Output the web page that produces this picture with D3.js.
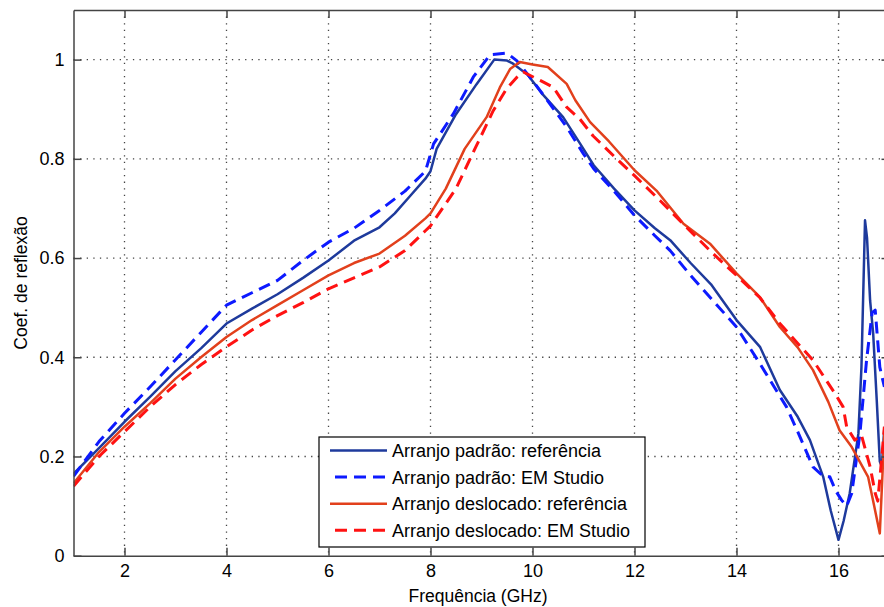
<!DOCTYPE html>
<html>
<head>
<meta charset="utf-8">
<script src="https://cdn.jsdelivr.net/npm/d3@7"></script>
<style>
  body { margin: 0; background: #fff; }
  svg text { font-family: "Liberation Sans", Arial, sans-serif; fill: #000; }
</style>
</head>
<body>
<svg id="vis" width="884" height="607"></svg>
<script>
// data
var xTicks = [2, 4, 6, 8, 10, 12, 14, 16];
var yTicks = [0, 0.2, 0.4, 0.6, 0.8, 1];

var padraoRefF = [1.0,1.5,2.0,2.5,3.0,3.5,4.0,4.5,5.0,5.5,6.0,6.5,7.0,7.3,7.6,7.9,8.0,8.12,8.5,8.9,9.25,9.5,9.6,9.9,10.2,10.6,10.93,11.2,11.6,12.0,12.4,12.7,13.1,13.5,14.0,14.46,14.85,15.2,15.44,15.7,15.85,16.0,16.1,16.22,16.39,16.45,16.52,16.56,16.62,16.68,16.75,16.81,16.85,16.9];
var padraoRefV = [0.165,0.217,0.27,0.32,0.372,0.418,0.468,0.498,0.527,0.56,0.595,0.635,0.662,0.69,0.725,0.76,0.775,0.82,0.89,0.95,1.0,0.998,0.993,0.97,0.93,0.884,0.831,0.787,0.74,0.696,0.66,0.636,0.59,0.547,0.475,0.421,0.334,0.28,0.233,0.159,0.09,0.032,0.07,0.126,0.246,0.38,0.676,0.64,0.514,0.448,0.313,0.19,0.18,0.26];

var padraoEmF = [1.0,1.5,2.0,2.5,3.0,3.5,4.0,4.5,5.0,5.5,6.0,6.5,7.0,7.5,7.9,8.06,8.45,8.84,9.17,9.5,9.69,10.0,10.34,10.67,11.0,11.2,11.6,12.0,12.4,12.7,13.1,13.48,14.0,14.46,14.98,15.2,15.5,15.7,15.83,15.95,16.06,16.16,16.26,16.42,16.55,16.66,16.72,16.81,16.9];
var padraoEmV = [0.16,0.23,0.287,0.34,0.395,0.45,0.505,0.53,0.555,0.595,0.632,0.66,0.696,0.735,0.775,0.83,0.891,0.965,1.01,1.013,0.998,0.958,0.911,0.864,0.81,0.78,0.735,0.686,0.645,0.615,0.565,0.521,0.461,0.387,0.30,0.25,0.179,0.16,0.159,0.13,0.112,0.1,0.126,0.246,0.394,0.49,0.495,0.38,0.34];

var deslRefF = [1.0,1.5,2.0,2.5,3.0,3.5,4.0,4.5,5.0,5.5,6.0,6.5,7.0,7.5,7.9,8.0,8.3,8.67,9.1,9.36,9.56,9.75,10.0,10.3,10.67,10.84,11.13,11.5,12.0,12.43,12.96,13.48,14.0,14.46,14.85,15.2,15.5,15.8,16.02,16.26,16.58,16.7,16.81,16.9];
var deslRefV = [0.146,0.209,0.26,0.307,0.357,0.40,0.441,0.475,0.505,0.535,0.565,0.59,0.609,0.645,0.68,0.69,0.74,0.82,0.884,0.944,0.981,0.995,0.99,0.985,0.951,0.918,0.874,0.835,0.777,0.736,0.669,0.629,0.569,0.521,0.461,0.42,0.374,0.31,0.253,0.219,0.159,0.1,0.045,0.25];

var deslEmF = [1.0,1.5,2.0,2.5,3.0,3.5,4.0,4.5,5.0,5.5,6.0,6.5,7.0,7.5,7.9,8.0,8.5,8.87,9.23,9.49,9.69,9.82,10.15,10.41,10.67,10.93,11.19,11.6,12.0,12.5,13.02,13.54,14.0,14.46,14.85,15.5,15.93,16.09,16.16,16.32,16.45,16.62,16.72,16.77,16.85,16.9];
var deslEmV = [0.14,0.2,0.25,0.3,0.345,0.385,0.421,0.455,0.484,0.51,0.538,0.56,0.582,0.615,0.655,0.665,0.74,0.82,0.897,0.941,0.964,0.975,0.958,0.944,0.904,0.88,0.846,0.805,0.766,0.716,0.662,0.609,0.565,0.52,0.468,0.394,0.327,0.3,0.26,0.233,0.243,0.179,0.126,0.11,0.2,0.26];

var seriesNames = ['Arranjo padrão: referência', 'Arranjo padrão: EM Studio',
                   'Arranjo deslocado: referência', 'Arranjo deslocado: EM Studio'];
var seriesColors = ['#1e3a9c', '#0d1aff', '#e2401c', '#ff1212'];
var seriesDash = [null, '12,7', null, '12,7'];

var series = [
  {f: padraoRefF, v: padraoRefV},
  {f: padraoEmF, v: padraoEmV},
  {f: deslRefF, v: deslRefV},
  {f: deslEmF, v: deslEmV}
];

var svg = d3.select('#vis');

// plot box (right edge falls just outside the picture, like the reference)
var plotLeft = 73.5, plotRight = 889.5, plotTop = 10, plotBottom = 555.7;

var x = d3.scaleLinear().domain([1, 17]).range([plotLeft, plotRight]);
var y = d3.scaleLinear().domain([0, 1.1]).range([plotBottom, plotTop]);

var chart = svg.append('g');

// grid
chart.selectAll('.xgrid')
    .data(xTicks)
    .enter().append('line')
    .attr('x1', function(d){ return x(d); })
    .attr('x2', function(d){ return x(d); })
    .attr('y1', plotTop).attr('y2', plotBottom)
    .attr('stroke', '#444').attr('stroke-width', 1.3)
    .attr('stroke-dasharray', '1.3,5.3');

chart.selectAll('.ygrid')
    .data(yTicks.filter(function(d){ return d > 0; }))
    .enter().append('line')
    .attr('x1', plotLeft).attr('x2', plotRight)
    .attr('y1', function(d){ return y(d); })
    .attr('y2', function(d){ return y(d); })
    .attr('stroke', '#444').attr('stroke-width', 1.3)
    .attr('stroke-dasharray', '1.3,5.3');

svg.append('clipPath').attr('id', 'clip')
    .append('rect').attr('x', plotLeft).attr('y', plotTop)
    .attr('width', plotRight - plotLeft).attr('height', plotBottom - plotTop);

var line = d3.line()
    .x(function(d){ return x(d[0]); })
    .y(function(d){ return y(d[1]); });

var curves = chart.append('g').attr('clip-path', 'url(#clip)');

series.forEach(function(s, i){
    var pts = s.f.map(function(f, j){ return [f, s.v[j]]; });
    curves.append('path')
        .datum(pts)
        .attr('d', line)
        .attr('fill', 'none')
        .attr('stroke', seriesColors[i])
        .attr('stroke-width', i % 2 ? 3 : 2.5)
        .attr('stroke-dasharray', seriesDash[i])
        .attr('stroke-linejoin', 'round');
});

// axes (matlab style box, ticks inside)
var xAxis = d3.axisBottom(x).tickValues(xTicks).tickSizeInner(-8).tickSizeOuter(0).tickPadding(9);
var yAxis = d3.axisLeft(y).tickValues(yTicks).tickSizeInner(-8).tickSizeOuter(0).tickPadding(9)
    .tickFormat(d3.format('~g'));
var xTop = d3.axisTop(x).tickValues(xTicks).tickSizeInner(-8).tickSizeOuter(0).tickFormat('');
var yRight = d3.axisRight(y).tickValues(yTicks).tickSizeInner(-8).tickSizeOuter(0).tickFormat('');

function styleAxis(g){
    g.select('.domain').attr('stroke', '#444').attr('stroke-width', 1.5);
    g.selectAll('.tick line').attr('stroke', '#444').attr('stroke-width', 1.5);
    g.selectAll('text').style('font-size', '18px').attr('fill', '#000');
}

chart.append('g').attr('transform', 'translate(0,' + plotBottom + ')').call(xAxis).call(styleAxis);
chart.append('g').attr('transform', 'translate(' + plotLeft + ',0)').call(yAxis).call(styleAxis);
chart.append('g').attr('transform', 'translate(0,' + plotTop + ')').call(xTop).call(styleAxis);
chart.append('g').attr('transform', 'translate(' + plotRight + ',0)').call(yRight).call(styleAxis);

// axis titles
svg.append('text')
    .attr('x', 478).attr('y', 602)
    .attr('text-anchor', 'middle')
    .style('font-size', '17.5px')
    .text('Frequência (GHz)');

svg.append('text')
    .attr('transform', 'translate(27,' + 283 + ') rotate(-90)')
    .attr('text-anchor', 'middle')
    .style('font-size', '17.5px')
    .text('Coef. de reflexão');

// legend
var legend = svg.append('g').attr('transform', 'translate(319,437)');

legend.append('rect')
    .attr('x', 0).attr('y', 0)
    .attr('width', 326).attr('height', 110)
    .attr('fill', '#fff').attr('stroke', '#000').attr('stroke-width', 1.2);

var items = legend.selectAll('.item')
    .data(seriesNames)
    .enter().append('g')
    .attr('transform', function(d, i){ return 'translate(0,' + (13.5 + i * 26.6) + ')'; });

items.append('line')
    .attr('x1', function(d, i){ return i % 2 ? 16 : 11; })
    .attr('x2', 68)
    .attr('y1', 0).attr('y2', 0)
    .attr('stroke', function(d, i){ return seriesColors[i]; })
    .attr('stroke-width', function(d, i){ return i % 2 ? 3 : 2.5; })
    .attr('stroke-dasharray', function(d, i){ return seriesDash[i]; });

items.append('text')
    .attr('x', 73).attr('y', 6.5)
    .style('font-size', '18px')
    .text(function(d){ return d; });
</script>
</body>
</html>
